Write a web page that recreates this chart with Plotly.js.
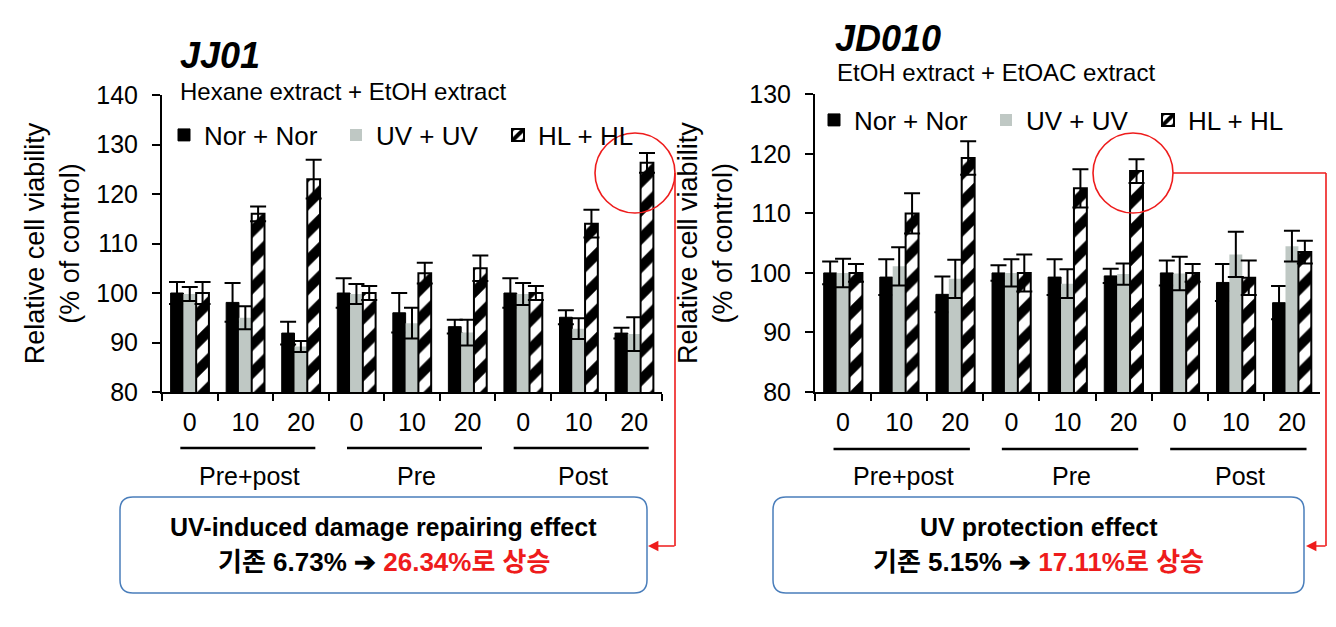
<!DOCTYPE html>
<html><head><meta charset="utf-8">
<script src="https://cdn.plot.ly/plotly-3.0.1.min.js"></script>
<style>html,body{margin:0;padding:0;background:#fff;}#chart{width:1336px;height:627px;}</style>
</head><body><div id="chart"></div>
<script>
// ---- data ----
const groups = ["Pre+post", "Pre", "Post"];
const doses = ["0", "10", "20"];
const seriesNames = ["Nor + Nor", "UV + UV", "HL + HL"];

// JJ01 (Hexane extract + EtOH extract)
const jj01Nor    = [100, 98.1, 91.9, 100, 96.0, 93.2, 100, 95.1, 91.9];
const jj01NorErr = [2.2, 3.9, 2.3, 3.0, 4.0, 1.4, 3.0, 1.4, 1.1];
const jj01Uv     = [99.8, 95.0, 89.2, 99.8, 93.9, 92.0, 99.8, 92.8, 91.7];
const jj01UvErr  = [1.4, 2.3, 1.1, 2.0, 3.1, 2.6, 2.2, 2.1, 3.4];
const jj01Hl     = [100, 116.0, 123.0, 100, 104.0, 105.0, 100, 114.0, 126.3];
const jj01HlErr  = [2.2, 1.5, 3.9, 1.4, 2.1, 2.6, 1.4, 2.8, 2.0];

// JD010 (EtOH extract + EtOAC extract)
const jd010Nor    = [100, 99.3, 96.4, 100, 99.3, 99.5, 100, 98.4, 95.0];
const jd010NorErr = [1.9, 3.0, 3.0, 1.3, 3.0, 1.2, 2.1, 3.1, 2.8];
const jd010Uv     = [100, 101.1, 99.0, 100, 98.2, 99.8, 99.9, 103.1, 104.5];
const jd010UvErr  = [2.4, 3.2, 3.2, 2.3, 2.4, 1.8, 2.8, 3.8, 2.6];
const jd010Hl     = [100, 110.0, 119.3, 100, 114.2, 117.1, 100, 99.2, 103.5];
const jd010HlErr  = [1.5, 3.4, 2.8, 3.1, 3.2, 2.0, 1.5, 2.9, 1.9];

const yTitle = "Relative cell viability<br>(% of control)";
const titleLeft = "JJ01", subLeft = "Hexane extract + EtOH extract";
const titleRight = "JD010", subRight = "EtOH extract + EtOAC extract";
const boxLeft1 = "UV-induced damage repairing effect";
const boxLeft2a = "기존 6.73% ➔ ", boxLeft2b = "26.34%로 상승";
const boxRight1 = "UV protection effect";
const boxRight2a = "기존 5.15% ➔ ", boxRight2b = "17.11%로 상승";

// ---- build ----
const cats = groups.flatMap(g => doses.map(d => g + " " + d));
const catText = groups.flatMap(() => doses);

const W = 1336, H = 627;
const fx = p => p / W, fy = p => 1 - p / H;
const FONT = "Liberation Sans, Arial, Helvetica, Noto Sans CJK KR, sans-serif";
const KFONT = "Liberation Sans, Arial, Noto Sans CJK KR, sans-serif";

const styles = [
  {color: "#000000", line: {color: "#000000", width: 1}},
  {color: "#bfc8c4", line: {color: "#bfc8c4", width: 0}},
  {color: "#ffffff", line: {color: "#000000", width: 2},
   pattern: {shape: "/", fgcolor: "#000000", bgcolor: "#ffffff", size: 20, solidity: 0.5, fillmode: "replace"}}
];
const legendWidths = [127, 117, 110];

function makeTraces(vals, errs, xa, ya, leg) {
  return vals.map((v, i) => ({
    type: "bar", name: seriesNames[i], x: cats, y: v,
    xaxis: xa, yaxis: ya, legend: leg, legendwidth: legendWidths[i],
    marker: styles[i],
    error_y: {type: "data", array: errs[i], visible: true, color: "#000", thickness: 2, width: 8},
    hoverinfo: "x+y"
  }));
}

const traces = [
  ...makeTraces([jj01Nor, jj01Uv, jj01Hl], [jj01NorErr, jj01UvErr, jj01HlErr], "x", "y", "legend"),
  ...makeTraces([jd010Nor, jd010Uv, jd010Hl], [jd010NorErr, jd010UvErr, jd010HlErr], "x2", "y2", "legend2")
];

function xAxis(d0, d1, anchor) {
  return {domain: [fx(d0), fx(d1)], anchor: anchor, type: "category",
    tickmode: "array", tickvals: cats, ticktext: catText, tickson: "boundaries",
    ticks: "outside", ticklen: 7, tickwidth: 2, tickcolor: "#000",
    showline: true, linewidth: 2, linecolor: "#000", showgrid: false,
    tickfont: {size: 25, family: FONT}, ticklabelstandoff: 7, fixedrange: true};
}
function yAxis(top, bottom, range, anchor) {
  return {domain: [fy(bottom), fy(top)], anchor: anchor, range: range, tick0: 80, dtick: 10,
    ticks: "outside", ticklen: 8, tickwidth: 2, tickcolor: "#000",
    showline: true, linewidth: 2, linecolor: "#000", showgrid: false, zeroline: false,
    tickfont: {size: 25, family: FONT}, ticklabelstandoff: 9,
    title: {text: yTitle, font: {size: 27, family: FONT}, standoff: 9}, fixedrange: true};
}

function roundRect(x0, y0, x1, y1, r) {
  const P = (x, y) => fx(x) + "," + fy(y);
  return "M" + P(x0 + r, y0) + " L" + P(x1 - r, y0) + " Q" + P(x1, y0) + " " + P(x1, y0 + r) +
    " L" + P(x1, y1 - r) + " Q" + P(x1, y1) + " " + P(x1 - r, y1) +
    " L" + P(x0 + r, y1) + " Q" + P(x0, y1) + " " + P(x0, y1 - r) +
    " L" + P(x0, y0 + r) + " Q" + P(x0, y0) + " " + P(x0 + r, y0) + " Z";
}

const shapes = [];
const annotations = [];
const RED = "#ee1c1c";

// group underlines + labels
[["x", 448, 476], ["x2", 449, 476]].forEach(([xa, uy, ly]) => {
  groups.forEach((g, gi) => {
    shapes.push({type: "line", xref: xa, yref: "paper", x0: gi * 3 - 0.17, x1: gi * 3 + 2.26,
      y0: fy(uy), y1: fy(uy), line: {color: "#000", width: 2.5}});
    annotations.push({xref: xa, yref: "paper", x: gi * 3 + 1.08, y: fy(ly), text: g, showarrow: false,
      xanchor: "center", yanchor: "middle", font: {size: 25, family: FONT, color: "#000"}});
  });
});

// titles
annotations.push(
  {xref: "paper", yref: "paper", x: fx(178), y: fy(56), xanchor: "left", yanchor: "middle",
   text: "<b><i>" + titleLeft + "</i></b>", showarrow: false, font: {size: 36, family: FONT, color: "#000"}},
  {xref: "paper", yref: "paper", x: fx(178), y: fy(92), xanchor: "left", yanchor: "middle",
   text: subLeft, showarrow: false, font: {size: 24, family: FONT, color: "#000"}},
  {xref: "paper", yref: "paper", x: fx(833), y: fy(39), xanchor: "left", yanchor: "middle",
   text: "<b><i>" + titleRight + "</i></b>", showarrow: false, font: {size: 36, family: FONT, color: "#000"}},
  {xref: "paper", yref: "paper", x: fx(835), y: fy(73), xanchor: "left", yanchor: "middle",
   text: subRight, showarrow: false, font: {size: 24, family: FONT, color: "#000"}}
);

// boxes
[[120, 647, boxLeft1, boxLeft2a, boxLeft2b], [773, 1304, boxRight1, boxRight2a, boxRight2b]].forEach(([x0, x1, t1, t2a, t2b]) => {
  shapes.push({type: "path", xref: "paper", yref: "paper", path: roundRect(x0, 497, x1, 593, 13),
    line: {color: "#4a7ebb", width: 1.5}, fillcolor: "rgba(0,0,0,0)"});
  const cx = (x0 + x1) / 2;
  annotations.push(
    {xref: "paper", yref: "paper", x: fx(cx), y: fy(527), xanchor: "center", yanchor: "middle",
     text: "<b>" + t1 + "</b>", showarrow: false, font: {size: 25, family: KFONT, color: "#000"}},
    {xref: "paper", yref: "paper", x: fx(cx), y: fy(562), xanchor: "center", yanchor: "middle",
     text: "<b>" + t2a + "<span style='color:" + RED + "'>" + t2b + "</span></b>", showarrow: false,
     font: {size: 26, family: KFONT, color: "#000"}}
  );
});

// red callouts
shapes.push(
  {type: "circle", xref: "paper", yref: "paper", x0: fx(595), x1: fx(675), y0: fy(213), y1: fy(133),
   line: {color: RED, width: 1.6}},
  {type: "line", xref: "paper", yref: "paper", x0: fx(675), x1: fx(675), y0: fy(173), y1: fy(546),
   line: {color: RED, width: 1.6}},
  {type: "circle", xref: "paper", yref: "paper", x0: fx(1093), x1: fx(1173), y0: fy(213), y1: fy(133),
   line: {color: RED, width: 1.6}},
  {type: "line", xref: "paper", yref: "paper", x0: fx(1173), x1: fx(1326), y0: fy(173), y1: fy(173),
   line: {color: RED, width: 1.6}},
  {type: "line", xref: "paper", yref: "paper", x0: fx(1326), x1: fx(1326), y0: fy(173), y1: fy(546),
   line: {color: RED, width: 1.6}}
);
annotations.push(
  {xref: "paper", yref: "paper", x: fx(648), y: fy(546), ax: 28, ay: 0, text: "", showarrow: true,
   arrowhead: 2, arrowsize: 1.3, arrowwidth: 1.6, arrowcolor: RED},
  {xref: "paper", yref: "paper", x: fx(1306), y: fy(546), ax: 21, ay: 0, text: "", showarrow: true,
   arrowhead: 2, arrowsize: 1.3, arrowwidth: 1.6, arrowcolor: RED}
);

const legendBase = {orientation: "h", xanchor: "left", yanchor: "middle", bgcolor: "rgba(0,0,0,0)",
  font: {size: 26, family: FONT, color: "#000"}, traceorder: "normal", borderwidth: 0};

const layout = {
  width: W, height: H, margin: {l: 0, r: 0, t: 0, b: 0},
  paper_bgcolor: "#fff", plot_bgcolor: "rgba(0,0,0,0)",
  font: {family: FONT, color: "#000", size: 24},
  barmode: "group", bargap: 0.31, bargroupgap: 0,
  xaxis: xAxis(162, 662, "y"),
  yaxis: yAxis(95, 392, [80, 140], "x"),
  xaxis2: xAxis(815, 1320, "y2"),
  yaxis2: yAxis(94.3, 392, [80, 130], "x2"),
  legend: Object.assign({x: fx(164), y: fy(135)}, legendBase),
  legend2: Object.assign({x: fx(814), y: fy(120)}, legendBase),
  shapes: shapes, annotations: annotations
};

Plotly.newPlot("chart", traces, layout, {displayModeBar: false, staticPlot: true});
</script></body></html>
